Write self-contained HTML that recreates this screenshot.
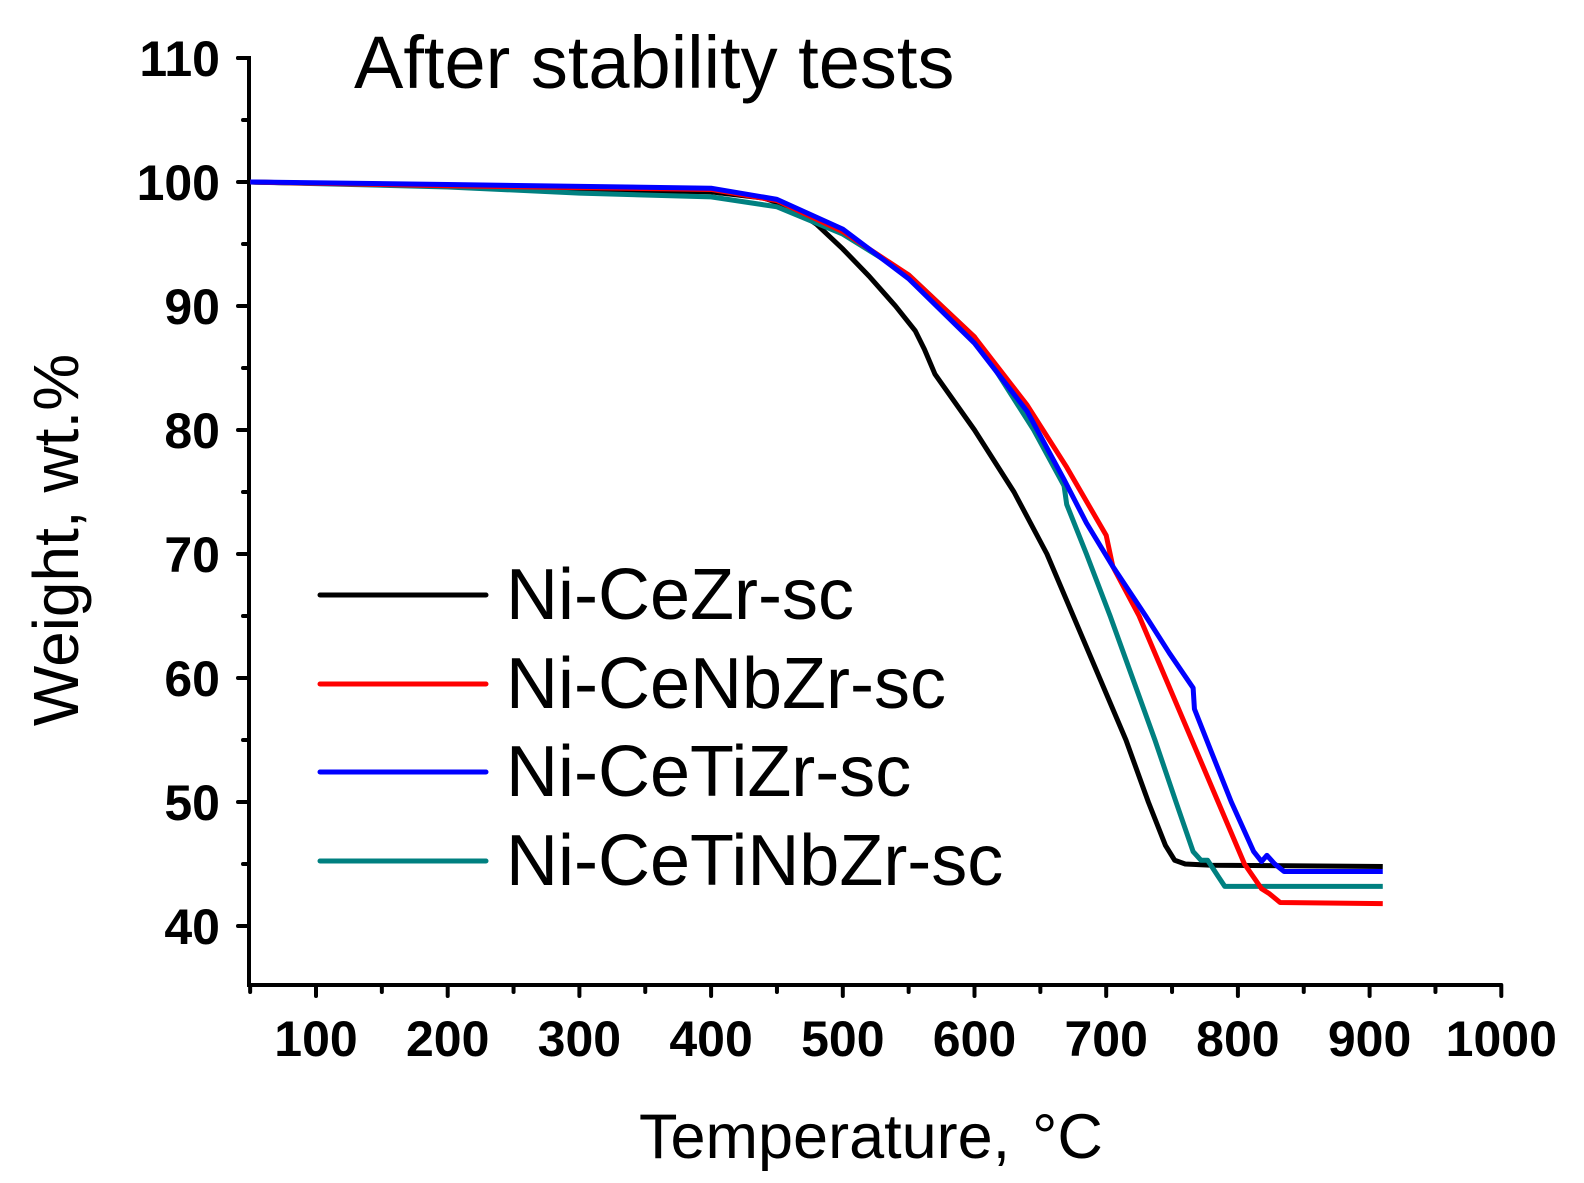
<!DOCTYPE html>
<html><head><meta charset="utf-8"><style>
html,body{margin:0;padding:0;background:#fff;}
svg{display:block;}
text{font-family:"Liberation Sans",Arial,sans-serif;}
.tk{font-weight:bold;font-size:50px;}
</style></head><body>
<svg id="s" width="1584" height="1183" viewBox="0 0 1584 1183" xmlns="http://www.w3.org/2000/svg">
<g id="axes" stroke="#000" stroke-width="4" fill="none" stroke-linecap="round">
<polyline points="238,58 249,58 249,985 1501,985"/>
</g>
<g id="g"></g>
<text x="354" y="88" font-size="74">After stability tests</text>
<text x="639" y="1158" font-size="63">Temperature,<tspan dx="22">°C</tspan></text>
<text transform="translate(78,540) rotate(-90)" font-size="64" text-anchor="middle">Weight, wt.%</text>
<g stroke-width="5" stroke-linecap="round">
<line x1="320" y1="595" x2="486" y2="595" stroke="#000"/>
<line x1="320" y1="684" x2="486" y2="684" stroke="#f00"/>
<line x1="320" y1="772" x2="486" y2="772" stroke="#00f"/>
<line x1="320" y1="861" x2="486" y2="861" stroke="#008080"/>
</g>
<g font-size="72">
<text x="506" y="619">Ni-CeZr-sc</text>
<text x="506" y="708">Ni-CeNbZr-sc</text>
<text x="506" y="796">Ni-CeTiZr-sc</text>
<text x="506" y="885">Ni-CeTiNbZr-sc</text>
</g>
</svg>
<script>
const X=t=>316+(t-100)*1.317, Y=w=>182+(100-w)*12.4;
const g=document.getElementById('g'), ax=document.getElementById('axes'), s=document.getElementById('s');
const NS='http://www.w3.org/2000/svg';
function el(p,tag,a,txt){const e=document.createElementNS(NS,tag);for(const k in a)e.setAttribute(k,a[k]);if(txt!==undefined)e.textContent=txt;p.appendChild(e);return e;}
for(let w=35;w<=110;w+=5){const y=Y(w);if(y>986)continue;const major=w%10==0;el(ax,'line',{x1:major?238:243,y1:y,x2:249,y2:y});
 if(major) el(s,'text',{x:220,y:y+18,'text-anchor':'end',class:'tk'},w);}
for(let t=50;t<=1000;t+=50){const x=X(t);const major=t%100==0;el(ax,'line',{x1:x,y1:985,x2:x,y2:major?996:992});
 if(major) el(s,'text',{x:x,y:1056,'text-anchor':'middle',class:'tk'},t);}
const D={
'#000':[[50,100],[200,99.7],[300,99.4],[400,99.2],[440,98.7],[460,98],[480,96.6],[500,94.6],[520,92.4],[540,90],[555,88],[562,86.5],[570,84.5],[600,80],[630,75],[655,70],[675,65],[695,60],[715,55],[732,50],[745,46.5],[752,45.3],[760,45],[780,44.9],[910,44.8]],
'#008080':[[50,100],[200,99.6],[300,99.1],[400,98.8],[450,98],[500,95.8],[550,92.5],[600,87.5],[645,80],[668,75.5],[670,74],[685,70],[703,65],[720,60],[737,55],[753,50],[766,46],[772,45.3],[777,45.3],[785,44],[790,43.2],[910,43.2]],
'#f00':[[50,100],[200,99.7],[400,99.4],[450,98.5],[500,96],[550,92.5],[600,87.5],[640,82],[670,77],[700,71.5],[705,69],[725,65],[745,60],[765,55],[785,50],[805,45],[818,43],[824,42.6],[832,41.9],[910,41.8]],
'#00f':[[50,100],[200,99.8],[400,99.5],[450,98.6],[500,96.2],[550,92.2],[600,87],[640,81.5],[668,76],[685,72.5],[705,69],[730,65],[748,62],[766,59.2],[767,57.5],[780,54],[795,50],[812,46],[818,45.2],[822,45.7],[828,45],[835,44.4],[910,44.4]]};
for(const c in D){el(g,'polyline',{points:D[c].map(p=>X(p[0])+','+Y(p[1])).join(' '),fill:'none',stroke:c,'stroke-width':5,'stroke-linejoin':'round'});}
</script>
</body></html>
